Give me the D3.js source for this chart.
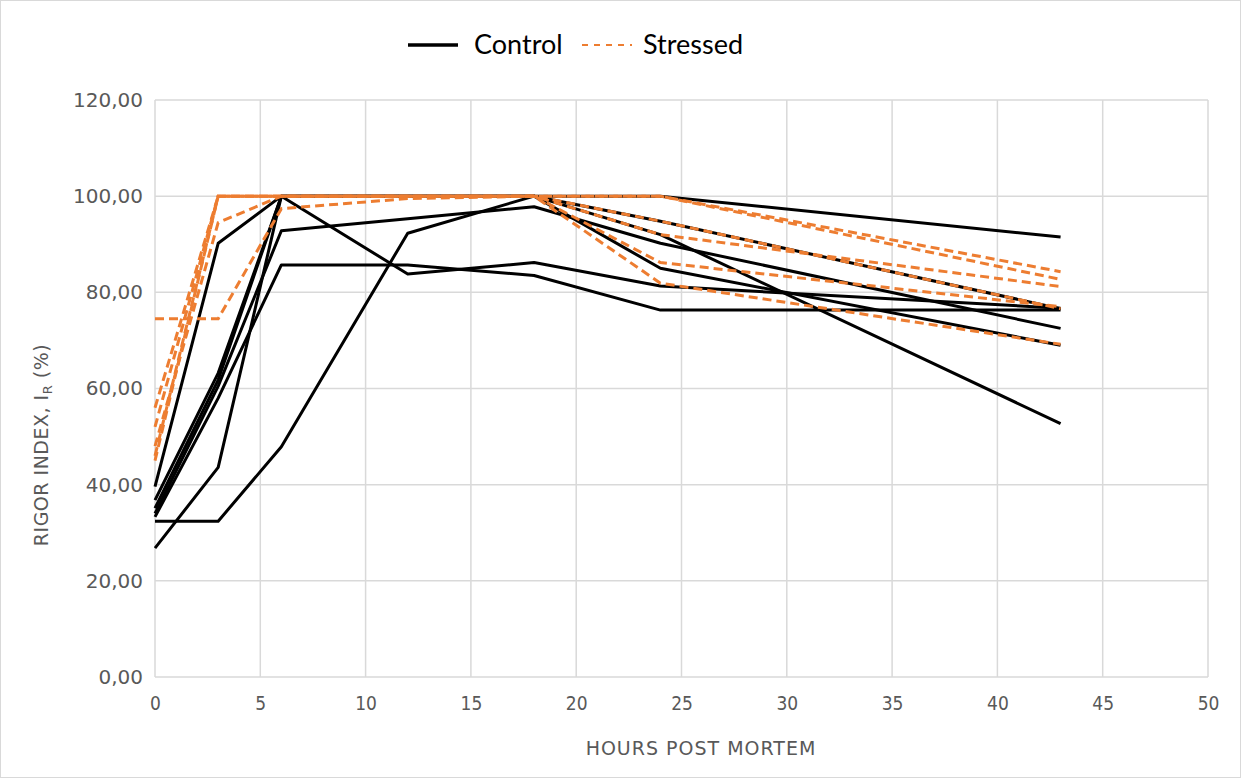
<!DOCTYPE html>
<html>
<head>
<meta charset="utf-8">
<script src="https://cdn.jsdelivr.net/npm/d3@7/dist/d3.min.js"></script>
<style>
  body { margin: 0; background: #fff; }
  svg { display: block; }
</style>
</head>
<body>
<div id="chart"></div>
<script>
// hours post mortem at which rigor was measured
var hours = [0, 3, 6, 12, 18, 24, 43];

// control fish, one array per animal
var control = [
  [39.6, 90.2, 100, 83.8, 86.2, 81.3, 76.7],
  [26.8, 43.6, 100, 100, 100, 92.0, 52.7],
  [32.4, 32.4, 47.9, 92.3, 100, 85.0, 69.0],
  [36.8, 63.2, 100, 100, 100, 100, 91.5],
  [35.1, 61.8, 100, 100, 100, 94.8, 76.6],
  [34.0, 60.5, 92.8, 95.3, 97.8, 90.2, 72.5],
  [33.3, 58.0, 85.7, 85.7, 83.5, 76.3, 76.3]
];

// stressed fish
var stressed = [
  [74.5, 74.5, 97.4, 99.5, 100, 81.9, 69.2],
  [56.0, 100, 100, 100, 100, 100, 84.3],
  [52.0, 100, 100, 100, 100, 100, 82.7],
  [48.0, 94.5, 100, 100, 100, 92.0, 81.2],
  [46.0, 100, 100, 100, 100, 94.8, 76.6],
  [45.0, 100, 100, 100, 100, 86.2, 77.0]
];

var xTicks = [0, 5, 10, 15, 20, 25, 30, 35, 40, 45, 50];
var yTicks = [0, 20, 40, 60, 80, 100, 120];

var W = 1241, H = 778;
var m = { left: 155, right: 33, top: 100, bottom: 101 };

var svg = d3.select("#chart").append("svg")
  .attr("width", W)
  .attr("height", H);

// outer chart frame
svg.append("rect")
  .attr("x", 0.5).attr("y", 0.5)
  .attr("width", W - 1).attr("height", H - 1)
  .style("fill", "none")
  .style("stroke", "#d9d9d9");

var x = d3.scaleLinear().domain([0, 50]).range([m.left, W - m.right]);
var y = d3.scaleLinear().domain([0, 120]).range([H - m.bottom, m.top]);

// gridlines
svg.append("g")
  .selectAll("line.v")
  .data(xTicks)
  .enter().append("line")
  .attr("x1", function (d) { return x(d); })
  .attr("x2", function (d) { return x(d); })
  .attr("y1", y(0)).attr("y2", y(120))
  .style("stroke", "#d9d9d9")
  .style("stroke-width", 1.5);

svg.append("g")
  .selectAll("line.h")
  .data(yTicks)
  .enter().append("line")
  .attr("y1", function (d) { return y(d); })
  .attr("y2", function (d) { return y(d); })
  .attr("x1", x(0)).attr("x2", x(50))
  .style("stroke", "#d9d9d9")
  .style("stroke-width", 1.5);

// axes, labels only (Excel style)
var fmt = function (d) { return d3.format(".2f")(d).replace(".", ","); };

var yAxis = svg.append("g")
  .attr("transform", "translate(" + x(0) + ",0)")
  .call(d3.axisLeft(y).tickValues(yTicks).tickFormat(fmt).tickSize(0).tickPadding(12));
yAxis.select(".domain").remove();
yAxis.selectAll("text")
  .style("font-family", "'DejaVu Sans'")
  .style("font-size", "20px")
  .style("fill", "#595959");

var xAxis = svg.append("g")
  .attr("transform", "translate(0," + y(0) + ")")
  .call(d3.axisBottom(x).tickValues(xTicks).tickSize(0).tickPadding(20));
xAxis.select(".domain").remove();
xAxis.selectAll("text")
  .style("font-family", "'DejaVu Sans Condensed', 'DejaVu Sans'")
  .style("font-stretch", "condensed")
  .style("font-size", "19px")
  .style("fill", "#595959");

// axis titles
svg.append("text")
  .attr("x", 701)
  .attr("y", 755)
  .attr("text-anchor", "middle")
  .style("font-family", "'DejaVu Sans'")
  .style("font-size", "19px")
  .style("letter-spacing", "1px")
  .style("fill", "#595959")
  .text("HOURS POST MORTEM");

var yt = svg.append("text")
  .attr("transform", "translate(48,445) rotate(-90)")
  .attr("text-anchor", "middle")
  .style("font-family", "'DejaVu Sans'")
  .style("font-size", "19px")
  .style("letter-spacing", "0.5px")
  .style("fill", "#595959");
yt.append("tspan").text("RIGOR INDEX, I");
yt.append("tspan").attr("dy", 4).style("font-size", "13px").text("R");
yt.append("tspan").attr("dy", -4).text(" (%)");

// series
var line = d3.line()
  .x(function (d, i) { return x(hours[i]); })
  .y(function (d) { return y(d); });

svg.append("g")
  .selectAll("path")
  .data(control)
  .enter().append("path")
  .attr("d", line)
  .style("fill", "none")
  .style("stroke", "#000")
  .style("stroke-width", 3)
  .style("stroke-linejoin", "round");

svg.append("g")
  .selectAll("path")
  .data(stressed)
  .enter().append("path")
  .attr("d", line)
  .style("fill", "none")
  .style("stroke", "#ED7D31")
  .style("stroke-width", 3)
  .style("stroke-dasharray", "9,5");

// legend
var leg = svg.append("g").attr("transform", "translate(408,45)");
leg.append("line")
  .attr("x1", 0).attr("x2", 50)
  .style("stroke", "#000").style("stroke-width", 3.5);
leg.append("text")
  .attr("x", 66).attr("y", 9)
  .style("font-family", "Lato, 'Open Sans', sans-serif")
  .style("font-size", "27px")
  .style("fill", "#000")
  .text("Control");
leg.append("line")
  .attr("x1", 174).attr("x2", 224)
  .style("stroke", "#ED7D31").style("stroke-width", 2)
  .style("stroke-dasharray", "6,6");
leg.append("text")
  .attr("x", 235).attr("y", 9)
  .style("font-family", "Lato, 'Open Sans', sans-serif")
  .style("font-size", "27px")
  .style("fill", "#000")
  .text("Stressed");
</script>
</body>
</html>
